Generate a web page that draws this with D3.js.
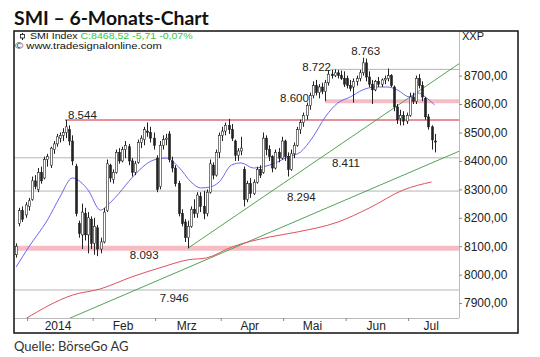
<!DOCTYPE html>
<html><head><meta charset="utf-8">
<script src="https://cdn.jsdelivr.net/npm/d3@7"></script>
<style>
html,body{margin:0;padding:0;background:#fff;}
svg{display:block;}
</style></head><body>
<svg id="c" width="540" height="357"></svg>
<script>
// ---- data (index = trading day, 0 = 20 Dec 2013 ... 134 = 11 Jul 2014) ----
const open  = [8070,8180,8225,8210,8240,8265,8330,8300,8360,8340, 8405,8385,8440,8460,8480,8490,8500,8510,8470,8380,
               8180,8140,8215,8140,8195,8110,8165,8090,8115,8225, 8385,8335,8360,8430,8400,8440,8450,8400,8360,8395,
               8465,8475,8505,8500,8480,8410,8310,8455,8475,8495, 8400,8375,8320,8215,8185,8130,8170,8230,8215,8275,
               8240,8215,8290,8385,8350,8430,8490,8505,8525,8510, 8470,8420,8435,8370,8265,8320,8285,8325,8370,8360,
               8480,8440,8415,8375,8430,8410,8470,8415,8370,8425, 8455,8510,8535,8560,8595,8630,8665,8640,8660,8645,
               8675,8705,8700,8710,8700,8690,8690,8665,8660,8680, 8690,8710,8745,8695,8670,8650,8680,8670,8685,8690,
               8700,8660,8590,8550,8560,8540,8560,8625,8610,8690, 8665,8620,8555,8520,8470];
const high  = [8110,8235,8240,8255,8270,8345,8350,8375,8380,8415, 8425,8450,8470,8495,8500,8515,8544,8525,8490,8390,
               8190,8250,8235,8220,8205,8200,8175,8130,8235,8405, 8390,8370,8440,8445,8450,8470,8460,8410,8400,8475,
               8490,8520,8535,8520,8500,8420,8470,8490,8495,8505, 8415,8385,8330,8230,8195,8190,8240,8265,8290,8290,
               8295,8300,8405,8395,8440,8500,8520,8535,8548,8530, 8475,8445,8485,8380,8330,8340,8335,8380,8385,8500,
               8490,8455,8420,8440,8445,8485,8475,8430,8440,8465, 8520,8545,8570,8605,8640,8680,8685,8670,8675,8685,
               8720,8720,8722,8720,8718,8715,8700,8685,8690,8700, 8720,8763,8760,8715,8685,8685,8695,8690,8700,8725,
               8705,8665,8600,8580,8575,8570,8640,8640,8700,8705, 8680,8625,8565,8525,8495];
const low   = [8060,8170,8185,8200,8225,8260,8300,8290,8320,8335, 8380,8375,8425,8450,8465,8470,8480,8455,8385,8205,
               8130,8090,8120,8075,8090,8070,8065,8075,8110,8220, 8325,8320,8355,8390,8395,8410,8385,8345,8350,8390,
               8445,8455,8485,8465,8440,8290,8300,8440,8455,8395, 8360,8310,8205,8170,8115,8093,8165,8200,8200,8220,
               8195,8205,8285,8335,8345,8410,8470,8490,8495,8470, 8400,8400,8420,8240,8255,8270,8280,8320,8340,8355,
               8420,8400,8360,8370,8395,8405,8400,8345,8365,8410, 8450,8495,8520,8545,8580,8620,8630,8620,8635,8610,
               8665,8690,8695,8690,8685,8660,8655,8645,8605,8665, 8680,8700,8680,8660,8600,8645,8660,8660,8670,8680,
               8660,8575,8530,8525,8525,8530,8555,8600,8600,8655, 8610,8545,8510,8440,8430];
const close = [8100,8225,8195,8245,8260,8330,8310,8360,8330,8405, 8415,8445,8460,8485,8490,8500,8520,8470,8400,8215,
               8145,8220,8140,8200,8110,8170,8090,8115,8220,8390, 8340,8360,8430,8400,8440,8455,8400,8360,8390,8465,
               8480,8510,8500,8480,8455,8300,8455,8475,8480,8405, 8375,8320,8215,8180,8130,8170,8230,8215,8280,8240,
               8215,8290,8390,8350,8430,8490,8505,8525,8510,8480, 8420,8435,8445,8265,8320,8285,8325,8370,8350,8480,
               8440,8415,8375,8430,8410,8470,8415,8370,8425,8455, 8510,8535,8560,8595,8630,8665,8640,8660,8645,8675,
               8705,8700,8710,8700,8690,8670,8665,8655,8680,8690, 8710,8745,8695,8670,8650,8680,8670,8685,8690,8700,
               8665,8590,8545,8560,8540,8560,8625,8610,8690,8665, 8625,8555,8520,8474.23,8468.52];

// moving averages (bar index, value)
const ma20Idx = [0,4,10,14,18,23,27,30,33,37,44,48,52,56,59,62,65,69,72,76,79,83,87,91,95,99,103,107,111,115,119,122,126,129,131,134];
const ma20Val = [8027,8097,8192,8273,8340,8298,8227,8252,8287,8340,8403,8410,8379,8326,8305,8308,8326,8386,8393,8375,8379,8393,8414,8431,8484,8555,8604,8625,8650,8660,8660,8650,8625,8639,8625,8597];
const ma200Idx = [3,18,27,37,46,55,61,69,81,90,103,113,124,133];
const ma200Val = [7845,7928,7950,7992,8024,8052,8059,8097,8132,8150,8185,8234,8298,8326];

// trend lines (bar index, value)
const trendUpper = [[55,8093],[141.8,8742]];
const trendLower = [[17,7846],[141.8,8434]];

// horizontal levels
const levelValues = [8763,8722,8610,8544,8411,8294,8093,7946];
const levelLabels = ["8.763","8.722","8.600","8.544","8.411","8.294","8.093","7.946"];
const levelFromIdx = [null,100.5,99,15.6,-1,-1,-1,-1];

// axes
const yTicks = [7900,8000,8100,8200,8300,8400,8500,8600,8700];
const monthStartIdx = [4,25,45,66,86,106,126];
const monthLabels = ["2014","Feb","Mrz","Apr","Mai","Jun","Jul"];
const monthLabelIdx = [13.4,34.2,54.6,74.8,94.9,115.3,132.9];

// ---- layout / style ----
const plot = {l:14, t:31, r:459, b:318};
const frame = {l:14, t:31, r:518, b:333};
const FONT = "'Liberation Sans', Arial, sans-serif";
const levelStyle = ["none","gray","band","red","gray","gray","band","gray"];
const levelLabelIdx = [107.3,91.6,84.5,16.6,101.1,86.7,36.4,46];
const levelLabelDy = [-3,2,1,-1,9,10,11,12];

const svg = d3.select("#c");
const x = d3.scaleLinear().domain([-0.7,141.8]).range([plot.l,plot.r]);
const y = d3.scaleLinear().domain([7847.5,8857]).range([plot.b,plot.t]);

svg.append("defs").append("clipPath").attr("id","clip")
  .append("rect").attr("x",plot.l).attr("y",plot.t).attr("width",plot.r-plot.l).attr("height",plot.b-plot.t);

// title + source
svg.append("text").attr("x",14).attr("y",25).attr("font-family","Lato, sans-serif").attr("font-weight","bold")
  .attr("font-size",19.4).attr("fill","#111").text("SMI – 6-Monats-Chart");
svg.append("text").attr("x",14).attr("y",351).attr("font-family","Lato, sans-serif")
  .attr("font-size",13).attr("fill","#333").text("Quelle: BörseGo AG");

// plot borders
svg.append("line").attr("x1",plot.r+0.5).attr("x2",plot.r+0.5).attr("y1",plot.t).attr("y2",plot.b).attr("stroke","#bbb");
svg.append("line").attr("x1",plot.l).attr("x2",plot.r).attr("y1",plot.b+0.5).attr("y2",plot.b+0.5).attr("stroke","#bbb");

const g = svg.append("g").attr("clip-path","url(#clip)");

// levels
levelValues.forEach((v,k)=>{
  const st = levelStyle[k];
  if(st==="none") return;
  const x1 = levelFromIdx[k] < 0 ? plot.l : x(levelFromIdx[k]);
  const ln = g.append("line").attr("x1",x1).attr("x2",plot.r).attr("y1",y(v)).attr("y2",y(v));
  if(st==="gray") ln.attr("stroke","#b4b4b4").attr("stroke-width",1);
  if(st==="band") ln.attr("stroke","#f6bcc4").attr("stroke-width",k===6?5:4);
  if(st==="red") ln.attr("stroke","#e8909a").attr("stroke-width",2);
});

// trend lines
const lineGen = d3.line().x(d=>x(d[0])).y(d=>y(d[1]));
[trendUpper,trendLower].forEach(t=>{
  g.append("path").attr("d",lineGen(t)).attr("fill","none").attr("stroke","#3f9a3f").attr("stroke-width",0.9);
});

// moving averages
const maGen = d3.line().x(d=>x(d[0])).y(d=>y(d[1])).curve(d3.curveMonotoneX);
g.append("path").attr("d",maGen(ma200Idx.map((i,k)=>[i,ma200Val[k]])))
  .attr("fill","none").attr("stroke","#e0505e").attr("stroke-width",1);
g.append("path").attr("d",maGen(ma20Idx.map((i,k)=>[i,ma20Val[k]])))
  .attr("fill","none").attr("stroke","#6a6af0").attr("stroke-width",1);

// candles
const idx = d3.range(close.length);
const cg = g.append("g");
cg.selectAll("line.w").data(idx).join("line").attr("class","w")
  .attr("x1",i=>Math.round(x(i))+0.5).attr("x2",i=>Math.round(x(i))+0.5)
  .attr("y1",i=>y(high[i])).attr("y2",i=>y(low[i])).attr("stroke","#222").attr("stroke-width",1);
cg.selectAll("rect.b").data(idx).join("rect").attr("class","b")
  .attr("x",i=>Math.round(x(i))-0.5).attr("width",2)
  .attr("y",i=>y(Math.max(open[i],close[i])))
  .attr("height",i=>Math.max(1,Math.abs(y(open[i])-y(close[i]))))
  .attr("fill",i=>close[i]>=open[i]?"#fff":"#222")
  .attr("stroke","#222").attr("stroke-width",0.6);

// level labels
levelValues.forEach((v,k)=>{
  svg.append("text").attr("x",x(levelLabelIdx[k])).attr("y",y(v)+levelLabelDy[k])
    .attr("font-family",FONT).attr("font-size",11.5).attr("fill","#222").text(levelLabels[k]);
});

// y axis
const yAxis = d3.axisRight(y).tickValues(yTicks).tickSize(3).tickPadding(2)
  .tickFormat(d=>d3.format(".2f")(d).replace(".",","));
const ya = svg.append("g").attr("transform",`translate(${plot.r},0)`).call(yAxis);
ya.select(".domain").remove();
ya.selectAll("line").attr("stroke","#888");
ya.selectAll("text").attr("font-family",FONT).attr("font-size",12).attr("fill","#222");

// x axis ticks
const xAxis = d3.axisBottom(x).tickValues(monthStartIdx.map(i=>i-0.5)).tickSize(3).tickFormat("");
const xa = svg.append("g").attr("transform",`translate(0,${plot.b})`).call(xAxis);
xa.select(".domain").remove();
xa.selectAll("line").attr("stroke","#888");
svg.selectAll("text.ml").data(monthLabels).join("text").attr("class","ml")
  .attr("x",(d,k)=>x(monthLabelIdx[k])).attr("y",330).attr("text-anchor","middle")
  .attr("font-family",FONT).attr("font-size",12).attr("fill","#222").text(d=>d);

// legend (text is horizontally stretched in the reference)
svg.append("line").attr("x1",22.5).attr("x2",22.5).attr("y1",33).attr("y2",40).attr("stroke","#111");
svg.append("rect").attr("x",20.5).attr("y",34.5).attr("width",4).attr("height",3.5).attr("fill","#fff").attr("stroke","#111").attr("stroke-width",0.8);
const lg = svg.append("text").attr("transform","translate(30,39) scale(1.23,1)")
  .attr("font-family",FONT).attr("font-size",8.6);
lg.append("tspan").attr("fill","#111").text("SMI Index ");
lg.append("tspan").attr("fill","#3cc43c").text("C:8468,52 -5,71 -0,07%");
svg.append("text").attr("transform","translate(15,48.6) scale(1.3,1)").attr("font-family",FONT).attr("font-size",8.6)
  .attr("fill","#111").text("© www.tradesignalonline.com");
svg.append("text").attr("x",462).attr("y",40).attr("font-family",FONT).attr("font-size",11)
  .attr("fill","#222").text("XXP");

// outer frame
svg.append("rect").attr("x",frame.l).attr("y",frame.t).attr("width",frame.r-frame.l).attr("height",frame.b-frame.t)
  .attr("fill","none").attr("stroke","#111").attr("stroke-width",1.5);
</script>
</body></html>
